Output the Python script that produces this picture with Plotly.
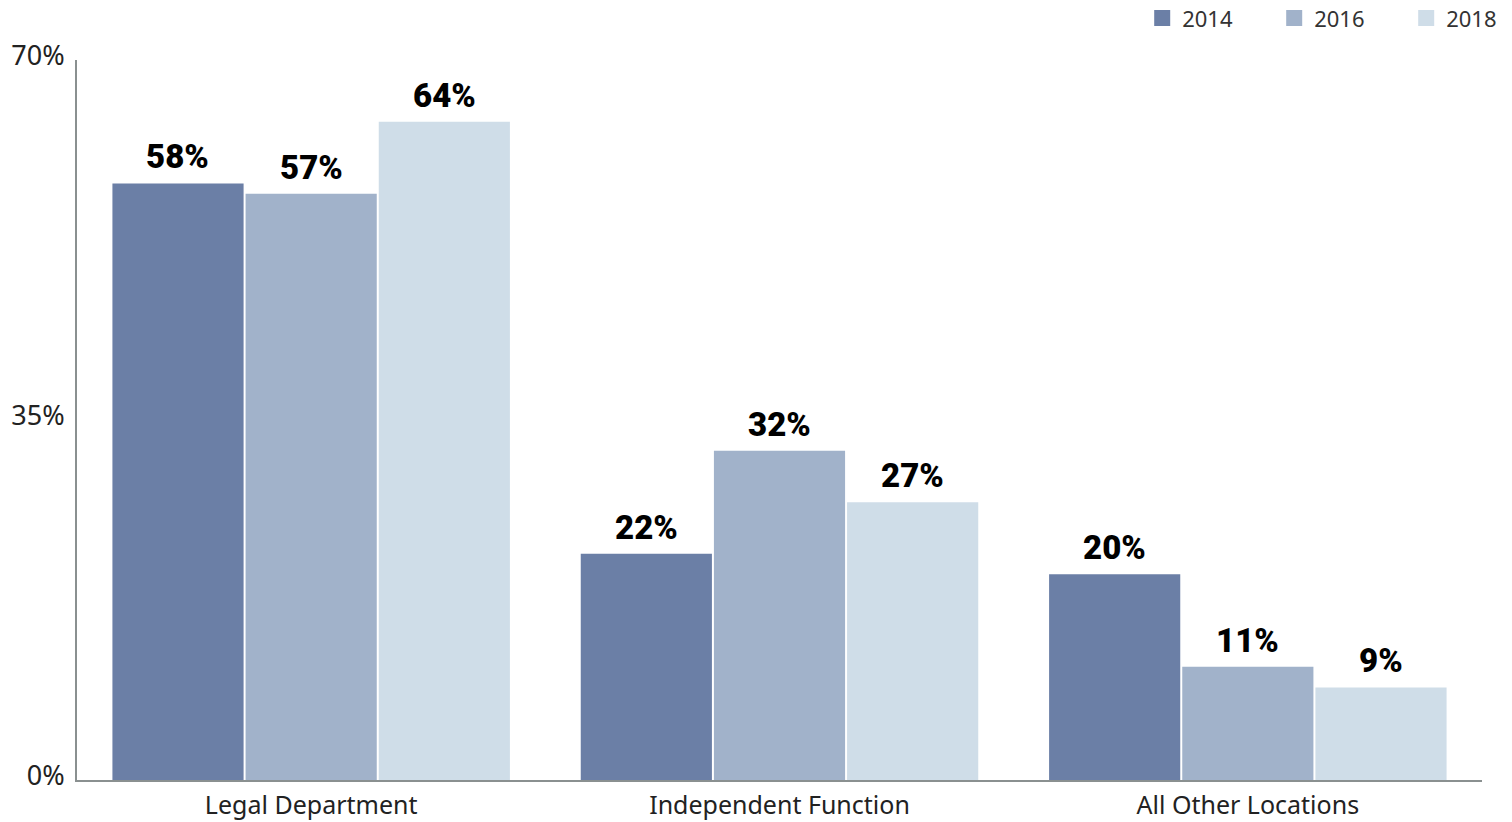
import plotly.graph_objects as go

categories = ["Legal Department", "Independent Function", "All Other Locations"]
years = ["2014", "2016", "2018"]
values_2014 = [58, 22, 20]
values_2016 = [57, 32, 11]
values_2018 = [64, 27, 9]
colors = ["#6b7fa6", "#a1b2ca", "#cfdde8"]
tick_vals = [0, 35, 70]
tick_text = ["0%", "35%", "70%"]

series = [values_2014, values_2016, values_2018]
slot_px = 133.3

fig = go.Figure()
for i, (name, vals, col) in enumerate(zip(years, series, colors)):
    fig.add_trace(go.Bar(
        x=categories, y=vals, name=name, showlegend=False,
        marker=dict(color=col, line=dict(width=0)),
        cliponaxis=False,
    ))
    # legend entry with a square swatch
    fig.add_trace(go.Scatter(
        x=[None], y=[None], name=name, mode="markers",
        marker=dict(symbol="square", size=25, color=col),
    ))
    for cat, v in zip(categories, vals):
        fig.add_annotation(
            x=cat, y=v, xref="x", yref="y", text=f"{v}%",
            showarrow=False, yanchor="bottom", yshift=5,
            xshift=(i - 1) * slot_px,
            font=dict(family="Roboto", size=33, color="#000000", weight=900),
        )

fig.update_layout(
    width=1512, height=822,
    margin=dict(l=77, r=30, t=60, b=42, autoexpand=False),
    paper_bgcolor="white", plot_bgcolor="white",
    barmode="group", bargap=0.147, bargroupgap=0.015,
    font=dict(family="Noto Sans", color="#222222"),
    legend=dict(orientation="h", x=1.04, xanchor="right", y=1.058, yanchor="middle",
                font=dict(size=22, color="#333333"), itemsizing="trace",
                traceorder="normal", entrywidth=87, entrywidthmode="pixels"),
    xaxis=dict(showline=True, linecolor="#8a9090", linewidth=2, ticks="",
               tickfont=dict(size=25, color="#222222"), showgrid=False,
               automargin=False, ticklabelstandoff=2),
    yaxis=dict(range=[0, 70], tickvals=tick_vals, ticktext=tick_text,
               showline=True, linecolor="#8a9090", linewidth=2, ticks="",
               showgrid=False, zeroline=False, automargin=False,
               ticklabelstandoff=5, ticklabelshift=-4,
               tickfont=dict(size=27, color="#222222")),
)

fig.write_html(
    "out.html",
    config={"displayModeBar": False},
    post_script="document.body.style.margin='0';document.body.style.padding='0';",
)
